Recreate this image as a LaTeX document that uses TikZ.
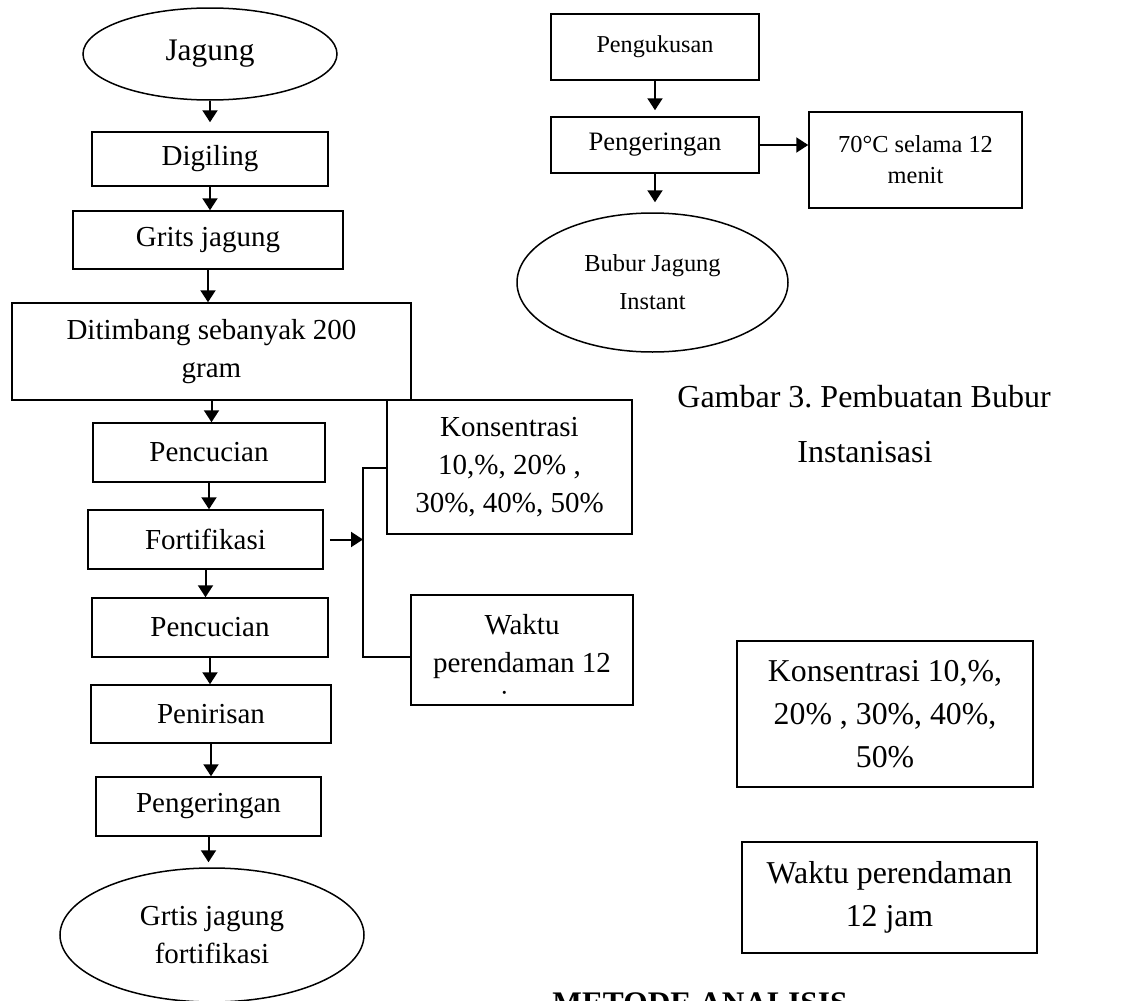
\documentclass[tikz,border=0pt]{standalone}
\usepackage{fontspec}
\setmainfont{Liberation Serif}
\usetikzlibrary{shapes.geometric,arrows.meta}
\frenchspacing

\tikzset{pbox/.style={draw,line width=0.75pt,inner sep=0pt,align=center},
         pova/.style={ellipse,draw,line width=0.75pt,inner sep=0pt,align=center},
         parr/.style={line width=1pt,-{Triangle[length=6pt,width=7.5pt]}},
         ftA/.style={font=\fontsize{14.5pt}{19pt}\selectfont},
         ftC/.style={font=\fontsize{15.9pt}{21.5pt}\selectfont}}

\begin{document}
\begin{tikzpicture}[x=0.5pt,y=-0.5pt]
  \useasboundingbox (0,0) rectangle (1121,1001);
  \clip (0,0) rectangle (1121,1001);
  % grits jagung fortifikasi
  \node[pova,minimum width=127pt,minimum height=46pt,font=\fontsize{15.7pt}{19pt}\selectfont] (jagung) at (210,54) {Jagung};
  \node[pbox,ftA,minimum width=118pt,minimum height=27pt] (digiling) at (210,159) {Digiling};
  \node[pbox,ftA,minimum width=135pt,minimum height=29pt] (grits) at (208,240) {Grits jagung};
  \node[pbox,ftA,minimum width=199.5pt,minimum height=48.5pt] (timbang) at (211.5,351.5) {Ditimbang sebanyak 200\\gram};
  \node[pbox,ftA,minimum width=116pt,minimum height=29.5pt] (cuci1) at (209,452.5) {Pencucian};
  \node[pbox,ftA,minimum width=117.5pt,minimum height=29.5pt] (forti) at (205.5,539.5) {Fortifikasi};
  \node[pbox,ftA,minimum width=118pt,minimum height=29.5pt] (cuci2) at (210,627.5) {Pencucian};
  \node[pbox,ftA,minimum width=120pt,minimum height=29pt] (tiris) at (211,714) {Penirisan};
  \node[pbox,ftA,minimum width=112.5pt,minimum height=29.5pt] (kering) at (208.5,806.5) {Pengeringan};
  \node[pova,ftA,minimum width=152pt,minimum height=67pt] (grtis) at (212,935) {Grtis jagung\\fortifikasi};
  \draw[parr,shorten >=4.5pt] (jagung.south) -- (jagung.south |- digiling.north);
  \foreach \a/\b in {digiling/grits,grits/timbang,timbang/cuci1,cuci1/forti,forti/cuci2,cuci2/tiris,tiris/kering}
    \draw[parr] (\a.south) -- (\a.south |- \b.north);
  \draw[parr,shorten >=2.5pt] (kering.south) -- (kering.south |- grtis.north);
  % perlakuan fortifikasi
  \node[pbox,ftA,minimum width=122.5pt,minimum height=67pt] (konsen1) at (509.5,467) {Konsentrasi\\10,\%, 20\% ,\\30\%, 40\%, 50\%};
  \node[pbox,minimum width=111pt,minimum height=55pt] (waktu1) at (522,650) {};
  \begin{scope}
    \clip (411,595) rectangle (633,694);
    \node[ftA,inner sep=0pt,align=center] (waktu1txt) at (522,666) {Waktu\\perendaman 12\\jam};
  \end{scope}
  \coordinate (bt) at (363,468);
  \coordinate (bb) at (363,657);
  \draw[line width=0.75pt] (konsen1.west |- bt) -- (bt) -- (bb) -- (waktu1.west |- bb);
  \draw[parr] ([xshift=3pt]forti.east) -- (bt |- forti.east);
  % bubur instan
  \node[pbox,minimum width=104pt,minimum height=33pt,font=\fontsize{12.1pt}{15pt}\selectfont] (kukus) at (655,47) {Pengukusan};
  \node[pbox,minimum width=104pt,minimum height=28pt,font=\fontsize{13.3pt}{16pt}\selectfont] (kering2) at (655,145) {Pengeringan};
  \node[pbox,minimum width=106.5pt,minimum height=48pt,font=\fontsize{12.2pt}{15.5pt}\selectfont] (suhu) at (915.5,160) {70°C selama 12\\menit};
  \node[pova,minimum width=135.5pt,minimum height=69.5pt,font=\fontsize{12.2pt}{19pt}\selectfont] (bubur) at (652.5,282.5) {Bubur Jagung\\Instant};
  \draw[parr,shorten >=3pt] (kukus.south) -- (kukus.south |- kering2.north);
  \draw[parr] (kering2.east) -- (suhu.west |- kering2.east);
  \draw[parr,shorten >=5pt] (kering2.south) -- (kering2.south |- bubur.north);
  % keterangan
  \node[anchor=base west,inner sep=0pt,font=\fontsize{16pt}{20pt}\selectfont] (capA) at (677,407) {Gambar 3. Pembuatan Bubur};
  \node[anchor=base west,inner sep=0pt,font=\fontsize{16pt}{20pt}\selectfont] (capB) at (797,462) {Instanisasi};
  \node[pbox,ftC,minimum width=148pt,minimum height=73pt] (konsen2) at (885,714) {Konsentrasi 10,\%,\\20\% , 30\%, 40\%,\\50\%};
  \node[pbox,ftC,minimum width=147.5pt,minimum height=55.5pt] (waktu2) at (889.5,897.5) {Waktu perendaman\\12 jam};
  \node[anchor=base west,inner sep=0pt,font=\bfseries\fontsize{15.7pt}{19pt}\selectfont] (metode) at (552,1013) {METODE ANALISIS};
\end{tikzpicture}
\end{document}
